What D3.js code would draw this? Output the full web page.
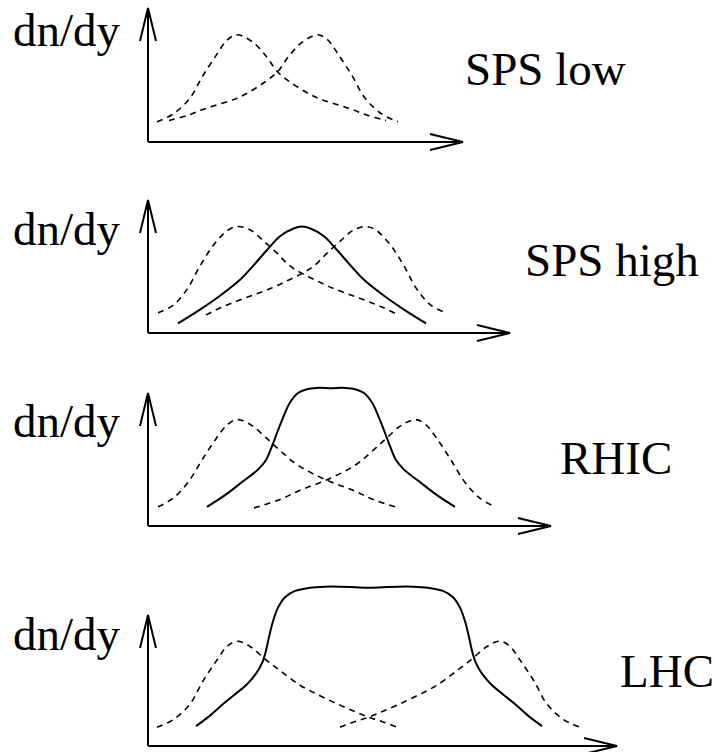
<!DOCTYPE html>
<html><head><meta charset="utf-8">
<script src="https://cdn.jsdelivr.net/npm/d3@7"></script>
<style>
body{margin:0;background:#fff}
</style>
</head><body>
<svg id="c" width="714" height="752"></svg>
<script>
// ---------- data ----------
const panelNames = ["SPS low", "SPS high", "RHIC", "LHC"];
const yLabel = "dn/dy";
// axis extents (rapidity units, dn/dy units)
const axisXMax = [31.5, 36.2, 40.3, 46.9];
const axisYMax = 1.25;

// SPS low
const spsLowDashA = [[0.9,0.19],[2.5,0.26],[4.2,0.41],[5.5,0.62],[6.9,0.82],[7.9,0.95],[8.9,1.0],[10.5,0.93],[11.9,0.79],[12.9,0.66],[14.2,0.56],[15.9,0.46],[17.2,0.40],[18.9,0.35],[20.5,0.30],[21.9,0.25],[23.8,0.20]];
const spsLowDashB = [[2.1,0.20],[4.0,0.25],[5.4,0.30],[7.0,0.35],[8.7,0.40],[10.0,0.46],[11.7,0.56],[13.0,0.66],[14.0,0.79],[15.4,0.93],[17.0,1.0],[18.0,0.95],[19.0,0.82],[20.4,0.62],[21.7,0.41],[23.4,0.26],[25.0,0.19]];

// SPS high
const spsHighDashA = [[1.0,0.19],[2.5,0.26],[3.9,0.41],[5.2,0.63],[6.5,0.82],[7.9,0.96],[8.9,1.0],[10.2,0.97],[11.5,0.87],[12.9,0.75],[14.2,0.63],[15.4,0.56],[16.9,0.49],[18.5,0.42],[20.2,0.36],[21.9,0.30],[23.5,0.24],[25.0,0.17]];
const spsHighDashB = [[5.8,0.17],[7.3,0.24],[8.9,0.30],[10.6,0.36],[12.3,0.42],[13.9,0.49],[15.4,0.56],[16.6,0.63],[17.9,0.75],[19.3,0.87],[20.6,0.97],[21.9,1.0],[22.9,0.96],[24.3,0.82],[25.6,0.63],[26.9,0.41],[28.3,0.26],[29.8,0.19]];
const spsHighSolid = [[3.0,0.09],[5.2,0.22],[7.2,0.35],[9.2,0.50],[10.5,0.63],[11.9,0.78],[13.2,0.91],[14.5,0.98],[15.4,1.0],[16.3,0.98],[17.6,0.91],[18.9,0.78],[20.3,0.63],[21.6,0.50],[23.6,0.35],[25.6,0.22],[27.8,0.09]];

// RHIC
const rhicDashA = [[1.0,0.18],[2.5,0.26],[4.0,0.41],[5.4,0.62],[6.8,0.82],[7.9,0.95],[8.9,1.0],[10.3,0.95],[11.8,0.83],[13.2,0.71],[15.0,0.57],[17.9,0.43],[20.4,0.34],[22.5,0.25],[25.1,0.17]];
const rhicDashB = [[10.6,0.17],[13.2,0.25],[15.3,0.34],[17.8,0.43],[20.7,0.57],[22.5,0.71],[23.9,0.83],[25.4,0.95],[26.8,1.0],[27.8,0.95],[28.9,0.82],[30.3,0.62],[31.7,0.41],[33.2,0.26],[34.7,0.18]];
const rhicSolid = [[5.9,0.18],[7.7,0.29],[9.5,0.42],[11.0,0.53],[11.8,0.62],[12.4,0.75],[13.0,0.90],[13.6,1.04],[14.2,1.16],[15.0,1.25],[16.1,1.29],[17.2,1.30],[18.3,1.295],[19.4,1.30],[20.5,1.29],[21.6,1.25],[22.4,1.16],[23.0,1.04],[23.6,0.90],[24.2,0.75],[24.8,0.62],[25.6,0.53],[27.1,0.42],[28.9,0.29],[30.7,0.18]];

// LHC
const lhcDashA = [[0.9,0.18],[2.5,0.25],[4.2,0.40],[5.5,0.62],[6.9,0.82],[7.9,0.95],[8.9,1.0],[10.2,0.95],[11.7,0.83],[13.2,0.72],[15.2,0.58],[17.2,0.48],[19.2,0.39],[20.9,0.32],[22.2,0.27],[23.5,0.23],[24.9,0.18]];
const lhcDashB = [[19.2,0.18],[20.6,0.23],[21.9,0.27],[23.2,0.32],[24.9,0.39],[26.9,0.48],[28.9,0.58],[30.9,0.72],[32.4,0.83],[33.9,0.95],[35.2,1.0],[36.2,0.95],[37.2,0.82],[38.6,0.62],[39.9,0.40],[41.6,0.25],[43.2,0.18]];
const lhcSolid = [[4.8,0.19],[6.2,0.29],[7.5,0.40],[8.8,0.50],[9.9,0.59],[10.8,0.69],[11.4,0.79],[11.8,0.91],[12.1,1.04],[12.5,1.19],[13.0,1.32],[13.7,1.42],[14.7,1.48],[16.2,1.51],[17.7,1.52],[19.2,1.52],[20.7,1.515],[22.1,1.51],[23.5,1.515],[25.0,1.52],[26.5,1.52],[28.0,1.51],[29.5,1.48],[30.5,1.42],[31.2,1.32],[31.7,1.19],[32.1,1.04],[32.4,0.91],[32.8,0.79],[33.4,0.69],[34.3,0.59],[35.4,0.50],[36.7,0.40],[38.0,0.29],[39.4,0.19]];

const panelDashed = [[spsLowDashA, spsLowDashB],[spsHighDashA, spsHighDashB],[rhicDashA, rhicDashB],[lhcDashA, lhcDashB]];
const panelSolid = [null, spsHighSolid, rhicSolid, lhcSolid];

// ---------- layout ----------
const layout = [
  {axisY:142, tipY:8,   label:[465,85],  ylab:46},
  {axisY:333, tipY:200, label:[525,276], ylab:245},
  {axisY:526, tipY:393, label:[560,474], ylab:437},
  {axisY:746, tipY:615, label:[620,687], ylab:650}
];
const FONT = "'Liberation Serif', Tinos, 'Times New Roman', Times, serif";
const svg = d3.select("#c");
const x = d3.scaleLinear().domain([0, 50]).range([148, 648]);
const HEAD = 33, HW = 8;

layout.forEach((L, i) => {
  const y = d3.scaleLinear().domain([0, axisYMax]).range([L.axisY, L.tipY]);
  const g = svg.append("g");
  const ox = x(0), oy = y(0), tx = x(axisXMax[i]), ty = y(axisYMax);
  g.append("path").attr("d", `M${ox},${oy}H${tx}M${tx-HEAD},${oy-HW}L${tx},${oy}L${tx-HEAD},${oy+HW}`)
    .attr("fill","none").attr("stroke","#000").attr("stroke-width",2);
  g.append("path").attr("d", `M${ox},${oy}V${ty}M${ox-HW},${ty+HEAD}L${ox},${ty}L${ox+HW},${ty+HEAD}`)
    .attr("fill","none").attr("stroke","#000").attr("stroke-width",2);
  const line = d3.line().x(d => x(d[0])).y(d => y(d[1])).curve(d3.curveCatmullRom.alpha(0.5));
  panelDashed[i].forEach(c => {
    g.append("path").attr("d", line(c)).attr("fill","none").attr("stroke","#000")
      .attr("stroke-width",1.6).attr("stroke-dasharray","6,5");
  });
  if (panelSolid[i]) {
    g.append("path").attr("d", line(panelSolid[i])).attr("fill","none").attr("stroke","#000")
      .attr("stroke-width",2);
  }
  g.append("text").attr("x",13).attr("y",L.ylab).attr("font-size",47)
    .style("font-family",FONT).attr("fill","#000").text(yLabel);
  g.append("text").attr("x",L.label[0]).attr("y",L.label[1]).attr("font-size",47)
    .style("font-family",FONT).attr("fill","#000").text(panelNames[i]);
});
</script>
</body></html>
